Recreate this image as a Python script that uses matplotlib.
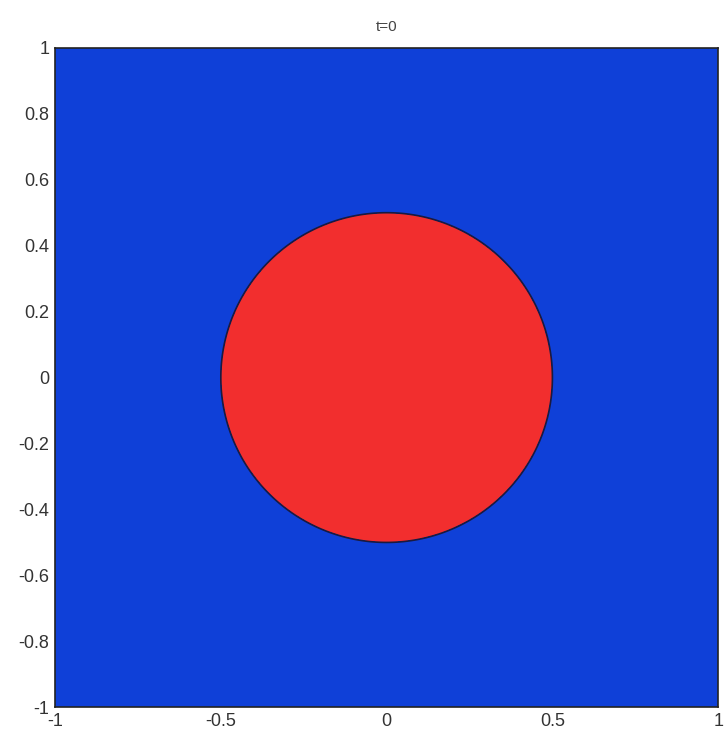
import matplotlib
matplotlib.use("Agg")
import matplotlib.pyplot as plt
import numpy as np

# level set: circle of radius 0.5 at the origin, t=0
center = (0.0, 0.0)
radius = 0.5
xlim = [-1, 1]
ylim = [-1, 1]
xticks = [-1, -0.5, 0, 0.5, 1]
yticks = [-1, -0.8, -0.6, -0.4, -0.2, 0, 0.2, 0.4, 0.6, 0.8, 1]
title = "t=0"

plt.rcParams.update({
    "font.family": ["Liberation Sans", "DejaVu Sans"],
    "font.size": 13,
})

n = 601
x = np.linspace(xlim[0], xlim[1], n)
y = np.linspace(ylim[0], ylim[1], n)
X, Y = np.meshgrid(x, y)
phi = np.sqrt((X - center[0]) ** 2 + (Y - center[1]) ** 2) - radius

fig = plt.figure(figsize=(7.24, 7.36), dpi=100)
ax = fig.add_axes([0.076, 0.039, 0.916, 0.896])

ax.contourf(X, Y, phi, levels=[phi.min() - 1, 0, phi.max() + 1],
            colors=["#F22E2E", "#0F40D8"])
ax.contour(X, Y, phi, levels=[0], colors="#1a1a40", linewidths=1.2)

ax.set_xlim(xlim)
ax.set_ylim(ylim)
ax.set_xticks(xticks)
ax.set_xticklabels(["-1", "-0.5", "0", "0.5", "1"])
ax.set_yticks(yticks)
ax.set_yticklabels(["-1", "-0.8", "-0.6", "-0.4", "-0.2", "0",
                    "0.2", "0.4", "0.6", "0.8", "1"])
ax.tick_params(direction="in", length=0, colors="#333333", labelsize=13, pad=4)
for s in ax.spines.values():
    s.set_color("#222222")
    s.set_linewidth(1.2)
ax.set_title(title, fontsize=11, color="#444444", pad=12)

fig.savefig("out.png", dpi=100)
